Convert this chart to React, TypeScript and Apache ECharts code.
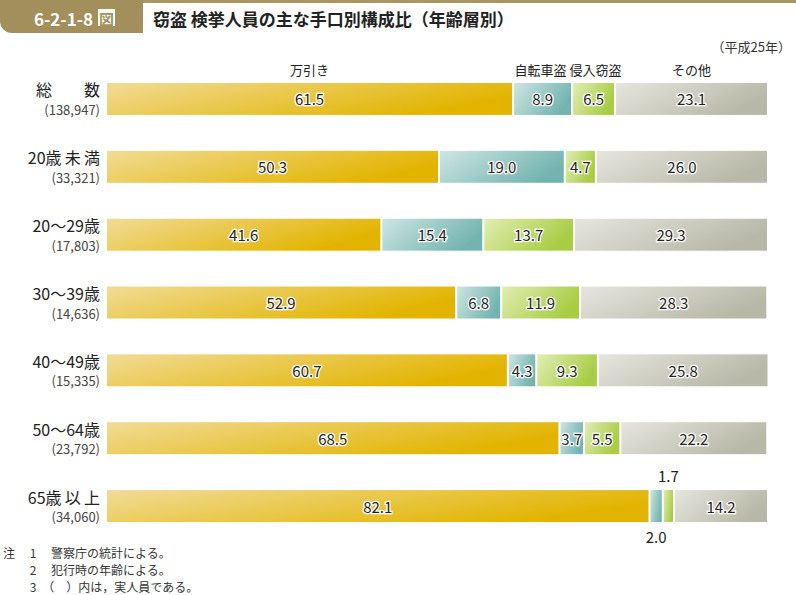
import React, { useEffect, useRef } from "react";
import * as echarts from "echarts";

const categories = ["総　　数", "20歳未満", "20～29歳", "30～39歳", "40～49歳", "50～64歳", "65歳以上"];
const counts = ["(138,947)", "(33,321)", "(17,803)", "(14,636)", "(15,335)", "(23,792)", "(34,060)"];
const seriesNames = ["万引き", "自転車盗", "侵入窃盗", "その他"];
const manbiki = [61.5, 50.3, 41.6, 52.9, 60.7, 68.5, 82.1];
const jitensha = [8.9, 19.0, 15.4, 6.8, 4.3, 3.7, 2.0];
const shinnyu = [6.5, 4.7, 13.7, 11.9, 9.3, 5.5, 1.7];
const sonota = [23.1, 26.0, 29.3, 28.3, 25.8, 22.2, 14.2];
const notes = ["注　 1　 警察庁の統計による。", "　　 2　 犯行時の年齢による。", "　　 3　（　）内は，実人員である。"];

const FONT = '"Noto Sans CJK JP", "Noto Sans", sans-serif';

export default function App() {
  const ref = useRef<HTMLDivElement>(null);
  useEffect(() => {
    if (!ref.current) return;
    const chart = echarts.init(ref.current, null, { renderer: "svg" });
    const grad = (a: string, b: string) =>
      new echarts.graphic.LinearGradient(0, 0, 1, 0.4, [
        { offset: 0, color: a },
        { offset: 1, color: b },
      ]);
    const colors = [
      grad("#f1dc98", "#e2b400"),
      grad("#cfe6e4", "#74b4b0"),
      grad("#e2eeb4", "#a8cc44"),
      grad("#e6e6df", "#b8b8a8"),
    ];
    const allData = [manbiki, jitensha, shinnyu, sonota];
    const baseLabel = {
      show: true,
      position: "inside",
      fontSize: 15,
      fontFamily: FONT,
      color: "#222",
      textBorderColor: "#fff",
      textBorderWidth: 2.5,
      formatter: (p: any) => Number(p.value).toFixed(1),
    };
    const series = allData.map((arr, si) => ({
      name: seriesNames[si],
      type: "bar",
      stack: "total",
      barWidth: 34,
      itemStyle: { color: colors[si], borderColor: "#fff", borderWidth: 1 },
      label: baseLabel,
      data: arr.map((v, i) => {
        if (i === 6 && si === 1)
          return { value: v, label: { position: "bottom", distance: 6, textBorderWidth: 0 } };
        if (i === 6 && si === 2)
          return { value: v, label: { position: "top", distance: 6, textBorderWidth: 0 } };
        return v;
      }),
    }));
    const spaceOut = (s: string) => {
      let out = "";
      const chars = Array.from(s);
      chars.forEach((c, k) => {
        out += c;
        const n = chars[k + 1];
        if (n && /[^\x00-\x7f～]/.test(c) && /[^\x00-\x7f～　]/.test(n) && c !== "　") out += "\u2009";
      });
      return out;
    };
    chart.setOption({
      animation: false,
      grid: { left: 106, right: 28, top: 65, height: 475 },
      xAxis: { type: "value", min: 0, max: 100, show: false },
      yAxis: {
        type: "category",
        data: categories,
        inverse: true,
        axisLine: { show: false },
        axisTick: { show: false },
        axisLabel: {
          margin: 6,
          align: "right",
          formatter: (v: string) => {
            const i = categories.indexOf(v);
            return `{a|${spaceOut(v)}}\n{b|${counts[i]}}`;
          },
          rich: {
            a: { fontSize: 16, color: "#222", fontFamily: FONT, lineHeight: 21, align: "right" },
            b: { fontSize: 13, color: "#444", fontFamily: FONT, lineHeight: 19, align: "right" },
          },
        },
      },
      series,
    });
    // series headers above the first row
    const headers: any[] = [];
    const nudges = [0, -2, 2, 0];
    let acc = 0;
    allData.forEach((arr, si) => {
      const mid = acc + arr[0] / 2;
      acc += arr[0];
      const pt = chart.convertToPixel({ gridIndex: 0 }, [mid, 0]) as number[];
      headers.push({
        type: "text",
        x: pt[0] + nudges[si],
        y: pt[1] - 17 - 12,
        style: {
          text: seriesNames[si],
          fontSize: 13,
          fontFamily: FONT,
          fill: "#222",
          textAlign: "center",
          textVerticalAlign: "middle",
        },
      });
    });
    chart.setOption({
      graphic: [
        { type: "rect", shape: { x: 0, y: 0, width: 796, height: 3 }, style: { fill: "#a89662" } },
        { type: "rect", shape: { x: 0, y: 0, width: 143, height: 33, r: [0, 0, 0, 12] }, style: { fill: "#a38f5c" } },
        {
          type: "text",
          x: 34,
          y: 18,
          style: { text: "6-2-1-8", fontSize: 17, fontWeight: "bold", fontFamily: FONT, fill: "#fff", textVerticalAlign: "middle" },
        },
        { type: "rect", shape: { x: 98, y: 9, width: 17, height: 17 }, style: { fill: "#fff" } },
        {
          type: "text",
          x: 106.5,
          y: 18,
          style: { text: "図", fontSize: 15, fontWeight: "bold", fontFamily: FONT, fill: "#a38f5c", textAlign: "center", textVerticalAlign: "middle" },
        },
        {
          type: "text",
          x: 153,
          y: 18,
          style: { text: "窃盗 検挙人員の主な手口別構成比（年齢層別）", fontSize: 17, fontWeight: "bold", fontFamily: FONT, fill: "#222", textVerticalAlign: "middle" },
        },
        {
          type: "text",
          x: 791,
          y: 46,
          style: { text: "（平成25年）", fontSize: 13, fontFamily: FONT, fill: "#333", textAlign: "right", textVerticalAlign: "middle" },
        },
        ...notes.map((n, i) => ({
          type: "text",
          x: 3,
          y: 552 + i * 17,
          style: { text: n, fontSize: 12, fontFamily: FONT, fill: "#333", textVerticalAlign: "middle" },
        })),
        ...headers,
      ],
    });
    return () => chart.dispose();
  }, []);
  return <div ref={ref} style={{ width: 796, height: 595, position: "absolute", left: 0, top: 0 }} />;
}
